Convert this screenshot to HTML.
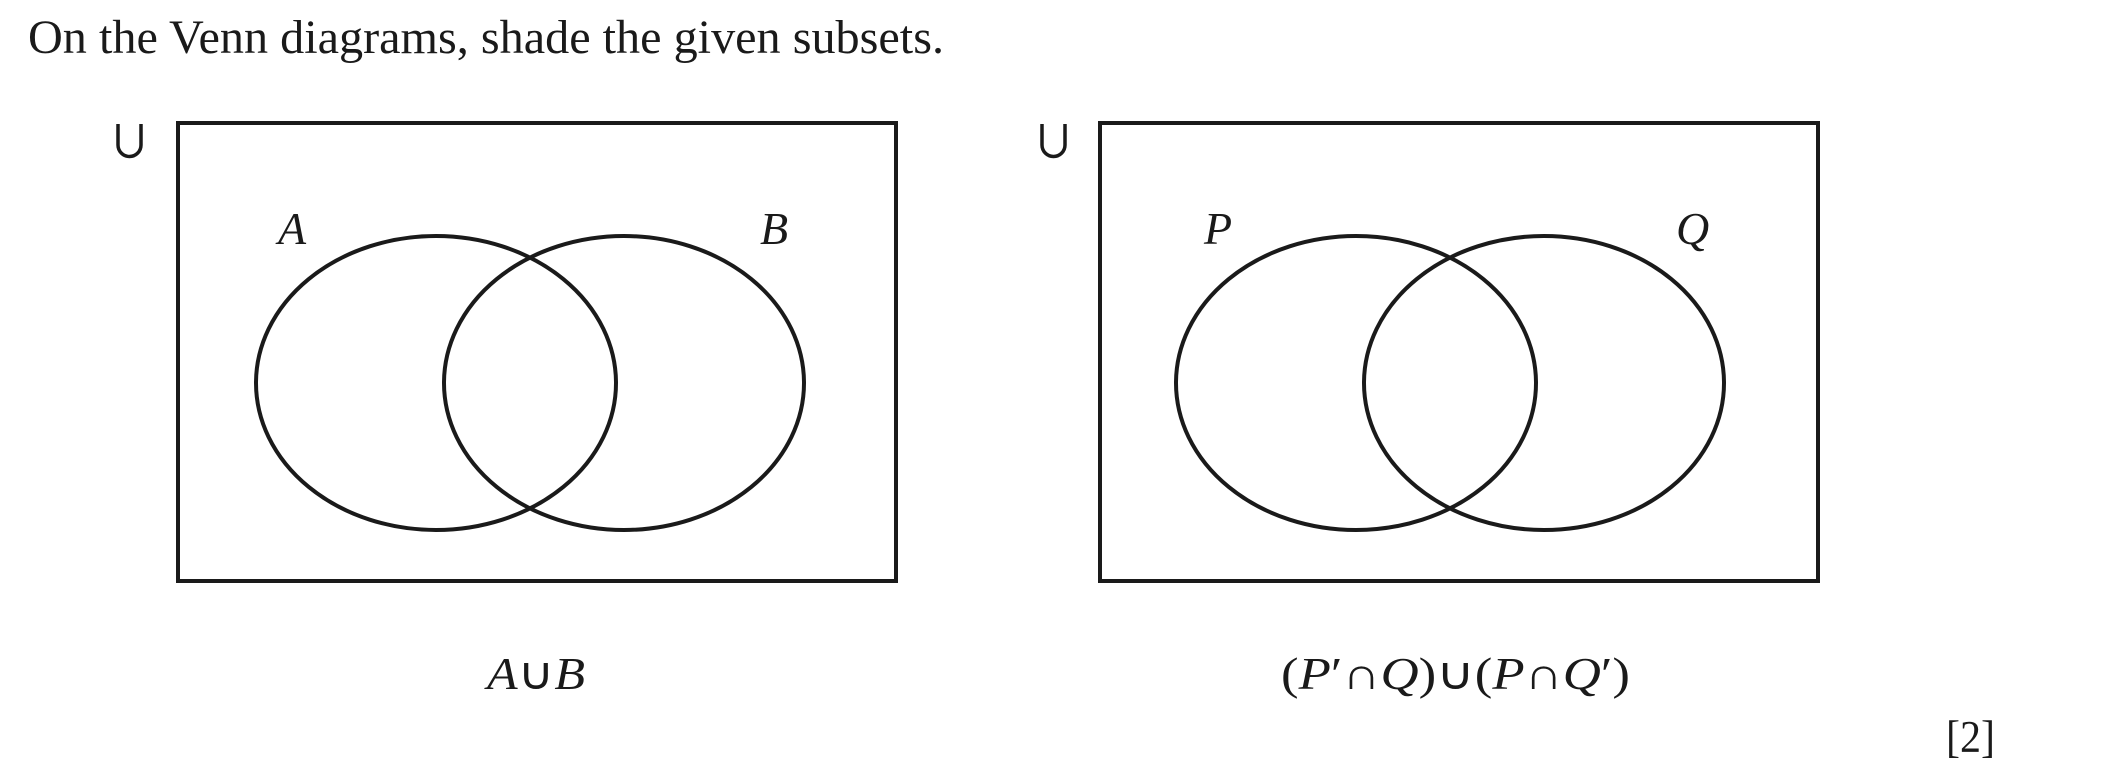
<!DOCTYPE html>
<html><head><meta charset="utf-8"><style>
html,body{margin:0;padding:0;background:#fff;}
svg{display:block}
</style></head><body>
<svg width="2101" height="773" viewBox="0 0 2101 773" xmlns="http://www.w3.org/2000/svg">
<g font-family="'Liberation Serif', serif" fill="#1a1a1a">
<text x="28" y="53" font-size="48" textLength="916" lengthAdjust="spacingAndGlyphs">On the Venn diagrams, shade the given subsets.</text>
</g>
<g fill="none" stroke="#1a1a1a" stroke-width="4">
<rect x="178" y="123" width="718" height="458"/>
<rect x="1100" y="123" width="718" height="458"/>
<ellipse cx="436" cy="383" rx="180" ry="147"/>
<ellipse cx="624" cy="383" rx="180" ry="147"/>
<ellipse cx="1356" cy="383" rx="180" ry="147"/>
<ellipse cx="1544" cy="383" rx="180" ry="147"/>
<path d="M118 124 V145 a11.5 11.5 0 0 0 23 0 V124" stroke-width="3.5"/>
<path d="M1042 124 V145 a11.5 11.5 0 0 0 23 0 V124" stroke-width="3.5"/>
</g>
<g font-family="'Liberation Serif', serif" font-style="italic" fill="#1a1a1a" font-size="46">
<text x="278" y="244">A</text>
<text x="760" y="244">B</text>
<text x="1204" y="244">P</text>
<text x="1676" y="244">Q</text>
</g>
<g font-family="'Liberation Serif', serif" fill="#1a1a1a" font-size="45">
<text x="487" y="689" textLength="98" lengthAdjust="spacingAndGlyphs"><tspan font-style="italic">A</tspan>∪<tspan font-style="italic">B</tspan></text>
<text x="1281" y="689" textLength="349" lengthAdjust="spacingAndGlyphs">(<tspan font-style="italic">P</tspan>′∩<tspan font-style="italic">Q</tspan>)∪(<tspan font-style="italic">P</tspan>∩<tspan font-style="italic">Q</tspan>′)</text>
<text x="1946" y="752" textLength="49" lengthAdjust="spacingAndGlyphs">[2]</text>
</g>
</svg>
</body></html>
